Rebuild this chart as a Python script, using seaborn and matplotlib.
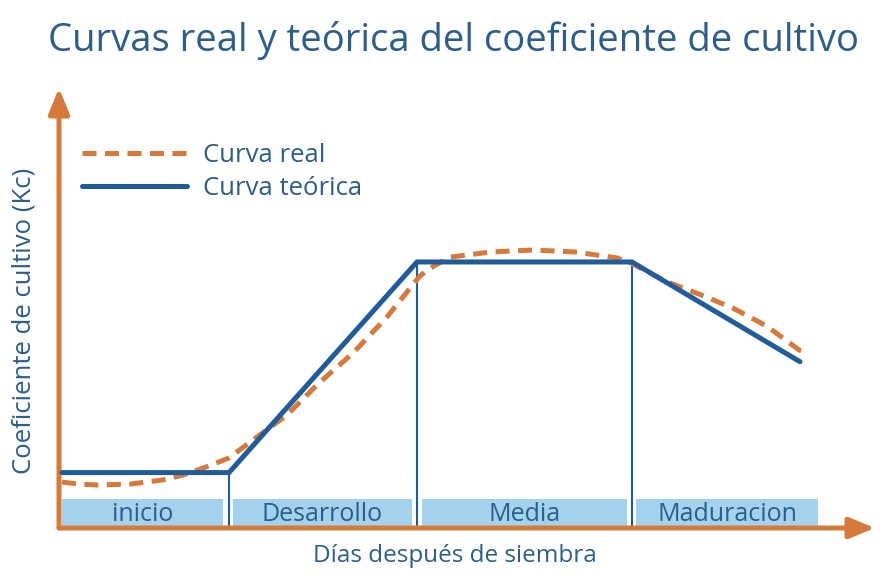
import pandas as pd
import matplotlib.pyplot as plt
import seaborn as sns

# stages of the crop cycle (days after sowing)
stages = ['inicio', 'Desarrollo', 'Media', 'Maduracion']
stage_start = [0.75, 43.5, 90.75, 144.25]
stage_end = [41.0, 88.25, 142.0, 189.75]
stage_bounds = [42.5, 89.5, 143.25]
band_height = 0.13

# theoretical Kc curve
theo_days = [0.75, 42.5, 89.5, 143.25, 185.25]
theo_kc = [0.25, 0.25, 1.2, 1.2, 0.75]

# real Kc curve
real_days = [0.75, 5, 9.5, 17.75, 26, 31, 36, 42.5, 48.5, 57, 65, 73.5, 82,
             90, 92, 97.75, 108, 118.5, 129, 139.5, 143, 152, 160, 168.5,
             177, 185, 187]
real_kc = [0.207, 0.198, 0.194, 0.198, 0.217, 0.239, 0.27, 0.316, 0.397,
           0.51, 0.654, 0.789, 0.952, 1.132, 1.164, 1.222, 1.245, 1.254,
           1.245, 1.218, 1.195, 1.11, 1.055, 0.992, 0.91, 0.803, 0.794]

ORANGE = '#d57a3b'
BLUE = '#1f5c99'
BAND = '#a3d2ef'
TEXT = '#2d5d89'

sns.set_style('white')
plt.rcParams['font.family'] = ['Open Sans', 'DejaVu Sans']

fig = plt.figure(figsize=(8.93, 5.80), dpi=100)
W, H = 893, 580
ax = fig.add_axes([59 / W, 52 / H, (875 - 59) / W, (528 - 88) / H])
ax.set_xlim(0, (875 - 59) / 4)
ax.set_ylim(0, (528 - 88) / 221.7)

# stage bands
ax.bar(stage_start, [band_height] * 4,
       width=[e - s for s, e in zip(stage_start, stage_end)],
       align='edge', color=BAND, linewidth=0, zorder=1)
for name, s, e in zip(stages, stage_start, stage_end):
    ax.text((s + e) / 2, band_height / 2 - 0.005, name, ha='center', va='center',
            fontsize=18, color=TEXT, zorder=2)

# vertical stage dividers
theo_at_bounds = [theo_kc[1], theo_kc[2], theo_kc[3]]
ax.vlines(stage_bounds, 0, theo_at_bounds, color=BLUE, lw=1.5, zorder=3)

real_df = pd.DataFrame({'dias': real_days, 'kc': real_kc})
theo_df = pd.DataFrame({'dias': theo_days, 'kc': theo_kc})

sns.lineplot(data=real_df, x='dias', y='kc', ax=ax, color=ORANGE, lw=3.6,
             sort=False, estimator=None, label='Curva real', zorder=4,
             dashes=False)
ax.lines[-1].set_dashes((2.8, 1.7))
sns.lineplot(data=theo_df, x='dias', y='kc', ax=ax, color=BLUE, lw=3.6,
             sort=False, estimator=None, label='Curva teórica', zorder=5)
ax.lines[-1].set_solid_joinstyle('miter')

leg = ax.legend(loc='upper left', bbox_to_anchor=(82 / W, 1 - 143 / H),
                bbox_transform=fig.transFigure, frameon=False, fontsize=18.5,
                handlelength=4.1, handletextpad=0.6, labelspacing=0.3,
                borderaxespad=0, borderpad=0)
for t in leg.get_texts():
    t.set_color(TEXT)

# axes as orange arrows
sns.despine(ax=ax, left=True, bottom=True, top=True, right=True)
ax.set_xticks([])
ax.set_yticks([])
ax.set_xlabel('')
ax.set_ylabel('')
arrow = dict(arrowstyle='-|>,head_length=1.1,head_width=0.45', color=ORANGE,
             lw=3.6, shrinkA=0, shrinkB=0, mutation_scale=14)
ax.annotate('', xy=(0, 1), xytext=(0, 0), xycoords='axes fraction',
            arrowprops=arrow, annotation_clip=False)
ax.annotate('', xy=(1, 0), xytext=(0, 0), xycoords='axes fraction',
            arrowprops=arrow, annotation_clip=False)

fig.text(453 / W, 1 - 40 / H, 'Curvas real y teórica del coeficiente de cultivo',
         ha='center', va='center', fontsize=27.5, color=TEXT)
fig.text(455 / W, 1 - 556 / H, 'Días después de siembra', ha='center',
         va='center', fontsize=17.5, color=TEXT)
fig.text(24 / W, 1 - 321 / H, 'Coeficiente de cultivo (Kc)', ha='center',
         va='center', rotation=90, fontsize=18.5, color=TEXT)

fig.savefig('out.png', dpi=100)
